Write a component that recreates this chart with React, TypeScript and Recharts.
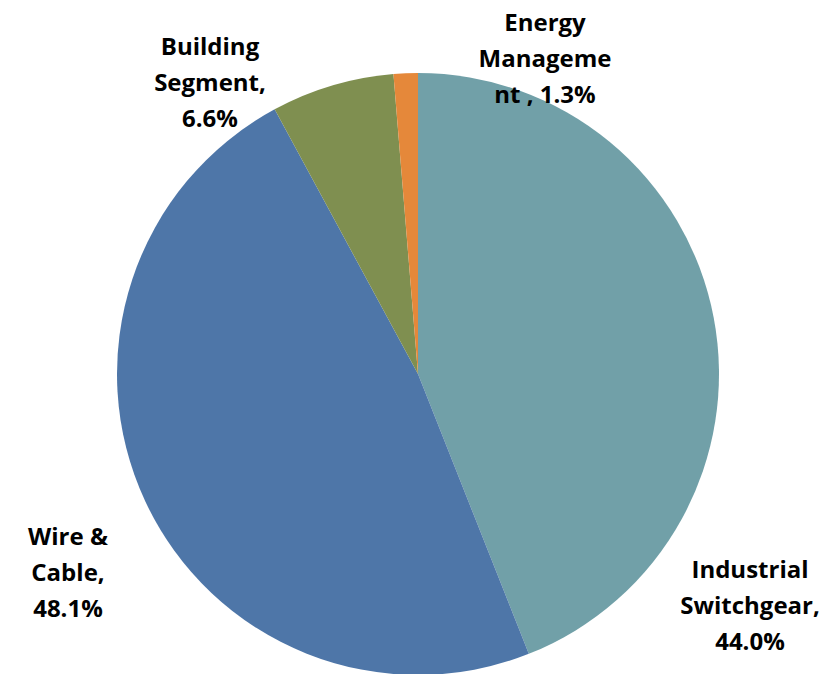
import React from "react";
import { PieChart, Pie, Cell } from "recharts";

const categories = ["Industrial Switchgear", "Wire & Cable", "Building Segment", "Energy Management"];
const shares = [44.0, 48.1, 6.6, 1.3];
const labelLines = [
  ["Industrial", "Switchgear,", "44.0%"],
  ["Wire &", "Cable,", "48.1%"],
  ["Building", "Segment,", "6.6%"],
  ["Energy", "Manageme", "nt , 1.3%"],
];
const colors = ["#71A0A8", "#4E76A8", "#7F8F50", "#E5883A"];

const data = categories.map((name, i) => ({ name, value: shares[i] }));

// label anchor offsets relative to pie centre (first-line centre)
const labelOffsets = [
  [332, 194],
  [-350, 161],
  [-208, -329],
  [127, -353],
];

const renderLabel = (props: any) => {
  const { cx, cy, index } = props;
  const [dx, dy] = labelOffsets[index];
  const lines = labelLines[index];
  return (
    <text
      x={cx + dx}
      y={cy + dy}
      textAnchor="middle"
      fill="#000"
      fontFamily="'Open Sans', sans-serif"
      fontWeight="bold"
      fontSize={24}
    >
      {lines.map((l, k) => (
        <tspan key={k} x={cx + dx} y={cy + dy + k * 36} dominantBaseline="central">
          {l}
        </tspan>
      ))}
    </text>
  );
};

export default function App() {
  return (
    <PieChart width={825} height={666} margin={{ top: 0, right: 0, bottom: 0, left: 0 }} style={{ background: "#fff" }}>
      <Pie
        data={data}
        dataKey="value"
        nameKey="name"
        cx={410}
        cy={366}
        outerRadius={301}
        startAngle={90}
        endAngle={-270}
        stroke="none"
        label={renderLabel}
        labelLine={false}
        isAnimationActive={false}
      >
        {data.map((d, i) => (
          <Cell key={d.name} fill={colors[i]} />
        ))}
      </Pie>
    </PieChart>
  );
}
